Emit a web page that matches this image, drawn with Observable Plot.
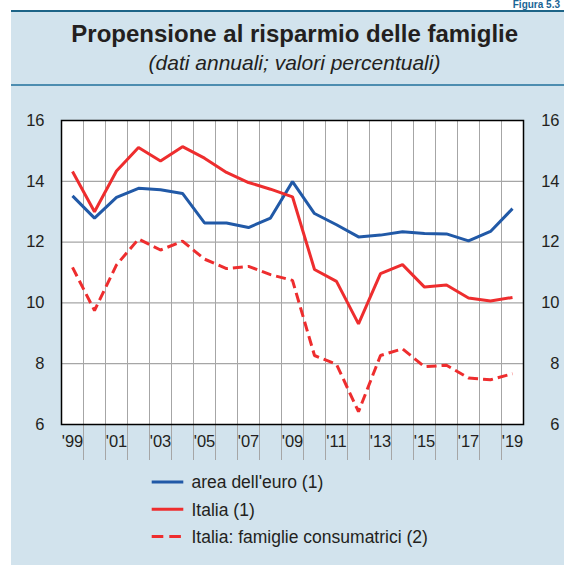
<!DOCTYPE html>
<html><head><meta charset="utf-8">
<script src="https://cdn.jsdelivr.net/npm/d3@7"></script>
<script src="https://cdn.jsdelivr.net/npm/@observablehq/plot@0.6"></script>
<style>
html,body{margin:0;padding:0;background:#fff;}
#page{position:relative;width:564px;height:565px;overflow:hidden;font-family:"Liberation Sans",Arial,Helvetica,sans-serif;color:#231f20;}
#bg{position:absolute;left:11px;top:10px;right:0;bottom:0;background:#d2e3ed;border-top:2px solid #1d6487;}
#rule2{position:absolute;left:11px;right:0;top:84px;height:2px;background:#4d8db0;}
#fig{position:absolute;right:4px;top:0px;font-weight:bold;font-size:10px;line-height:10px;color:#1a6495;white-space:nowrap;}
#title{position:absolute;left:294.7px;top:22.2px;transform:translateX(-50%);font-weight:bold;font-size:24px;line-height:24px;white-space:nowrap;}
#subtitle{position:absolute;left:294.5px;top:52.2px;transform:translateX(-50%);font-style:italic;font-size:21px;line-height:21px;white-space:nowrap;}
#chart{position:absolute;left:0;top:100px;}
#legend{position:absolute;left:0;top:460px;}
</style></head>
<body>
<div id="page">
  <div id="bg"></div>
  <div id="rule2"></div>
  <div id="fig">Figura 5.3</div>
  <div id="title">Propensione al risparmio delle famiglie</div>
  <div id="subtitle">(dati annuali; valori percentuali)</div>
  <div id="chart"></div>
  <svg id="legend" width="564" height="105"></svg>
</div>
<script>
const years = [1999,2000,2001,2002,2003,2004,2005,2006,2007,2008,2009,2010,2011,2012,2013,2014,2015,2016,2017,2018,2019];
const areaEuro = [13.52,12.79,13.47,13.77,13.72,13.60,12.63,12.63,12.48,12.79,13.99,12.94,12.57,12.17,12.23,12.34,12.28,12.27,12.04,12.35,13.10];
const italia = [14.32,13.00,14.34,15.11,14.67,15.14,14.76,14.29,13.96,13.74,13.49,11.10,10.71,9.31,10.96,11.26,10.52,10.59,10.16,10.06,10.18];
const italiaFam = [11.17,9.75,11.25,12.10,11.74,12.03,11.44,11.13,11.20,10.93,10.74,8.27,7.98,6.42,8.27,8.49,7.90,7.95,7.53,7.47,7.67];
const seriesNames = ["area dell'euro (1)", "Italia (1)", "Italia: famiglie consumatrici (2)"];
const seriesColors = ["#2159a7", "#ee2d2e", "#ee2d2e"];
const seriesDash = [null, null, "10,5"];
const yTicks = [6, 8, 10, 12, 14, 16];
const gridValues = [8, 10, 12, 14];
const xTickYears = [1999,2001,2003,2005,2007,2009,2011,2013,2015,2017,2019];
const xTickLabels = ["'99","'01","'03","'05","'07","'09","'11","'13","'15","'17","'19"];

const seriesValues = [areaEuro, italia, italiaFam];
const rows = [];
seriesValues.forEach((vals, s) => vals.forEach((v, i) => rows.push({series: seriesNames[s], year: years[i], value: v})));
const boundaries = years.slice(1).map(y => y - 0.5);

const font = '"Liberation Sans", Arial, Helvetica, sans-serif';
const chart = Plot.plot({
  width: 564, height: 360,
  marginLeft: 61, marginRight: 41, marginTop: 20, marginBottom: 36,
  style: {background: "transparent", fontFamily: font, fontSize: "16.5px", color: "#231f20"},
  x: {domain: [1998.5, 2019.5]},
  y: {domain: [6, 16]},
  marks: [
    Plot.frame({fill: "white", stroke: "none"}),
    Plot.ruleY(gridValues, {stroke: "#a6a6a6", strokeWidth: 1.3}),
    Plot.ruleX(boundaries, {y1: 6, y2: 16, insetTop: 299, stroke: "#a6a6a6", strokeWidth: 1}),
    ...seriesNames.map((name, s) => Plot.line(rows.filter(r => r.series === name), {
      x: "year", y: "value", stroke: seriesColors[s], strokeWidth: 3,
      strokeDasharray: seriesDash[s] || undefined, strokeLinejoin: "miter", strokeLinecap: "butt"
    })),
    Plot.frame({stroke: "#000", strokeWidth: 1.5}),
    Plot.axisY({anchor: "left", ticks: yTicks, tickSize: 0, tickPadding: 17, label: null}),
    Plot.axisY({anchor: "right", ticks: yTicks, tickSize: 0, tickPadding: 36, textAnchor: "end", label: null}),
    Plot.axisX({ticks: xTickYears, tickSize: 0, tickPadding: 11, label: null,
      tickFormat: d => xTickLabels[xTickYears.indexOf(d)]})
  ]
});
document.getElementById("chart").appendChild(chart);

// legend
const lg = d3.select("#legend");
const rowY = [22, 49.3, 76.6];
seriesNames.forEach((name, s) => {
  lg.append("line").attr("x1", 151.7).attr("x2", 183.3).attr("y1", rowY[s]).attr("y2", rowY[s])
    .attr("stroke", seriesColors[s]).attr("stroke-width", 3)
    .attr("stroke-dasharray", s === 2 ? "11.6,6" : null);
  lg.append("text").attr("x", 191.5).attr("y", rowY[s] + 6.3)
    .attr("font-family", font).attr("font-size", 17.5).attr("fill", "#231f20").text(name);
});
</script>
</body></html>
